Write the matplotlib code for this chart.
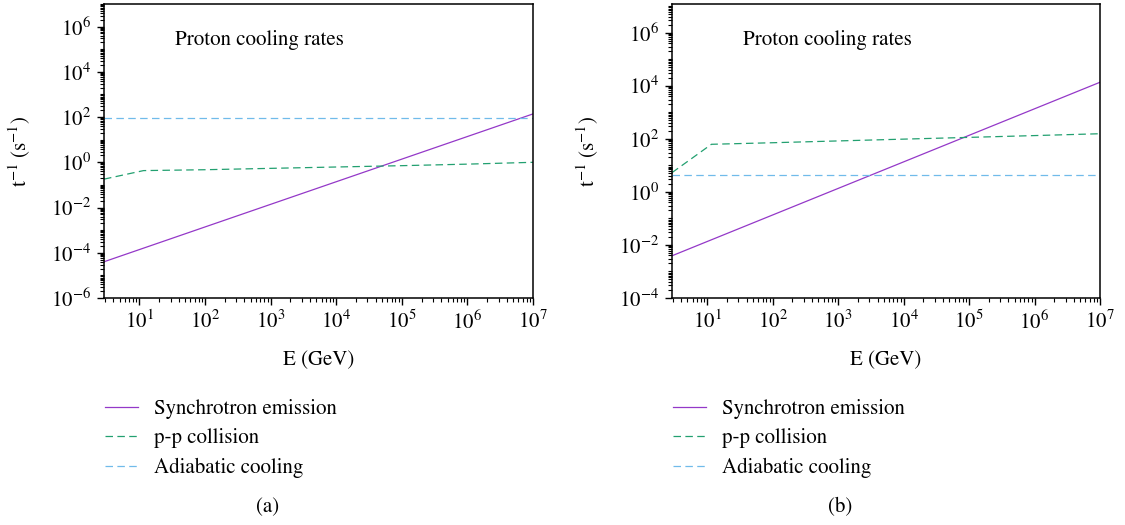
import matplotlib
matplotlib.use('Agg')
import matplotlib.pyplot as plt
import numpy as np
from matplotlib.ticker import LogLocator, NullFormatter, LogFormatterMathtext

plt.rcParams['font.family'] = 'serif'
plt.rcParams['font.serif'] = ['STIXGeneral', 'Liberation Serif', 'DejaVu Serif']
plt.rcParams['mathtext.fontset'] = 'stix'

# energy grid (GeV)
E_SYNC = [2.9, 1e7]
E_PP = [2.9, 11.6, 1e2, 1e3, 1e4, 1e5, 1e6, 1e7]
E_ADI = [2.9, 1e7]

# panel (a)
SYNC_A = [4.0e-5, 1.38e2]
PP_A = [0.18, 0.43, 0.47, 0.54, 0.62, 0.71, 0.83, 1.0]
ADI_A = [89, 89]

# panel (b)
SYNC_B = [3.9e-3, 1.35e4]
PP_B = [5.3, 62, 71, 83, 97, 113, 132, 155]
ADI_B = [4.3, 4.3]

YLIMS = [(1e-6, 1e7), (1e-4, 1.2e7)]
LABELS = ['Synchrotron emission', 'p-p collision', 'Adiabatic cooling']
PANEL_NAMES = ['(a)', '(b)']

C_SYNC = '#9438c8'
C_PP = '#22a070'
C_ADI = '#70bbea'
FS = 15


def draw_panel(ax, sync, pp, adi, ylim):
    ax.plot(E_SYNC, sync, color=C_SYNC, lw=0.9, label=LABELS[0])
    ax.plot(E_PP, pp, color=C_PP, lw=0.9, dashes=(6, 3.5), label=LABELS[1])
    ax.plot(E_ADI, adi, color=C_ADI, lw=0.9, dashes=(6, 3.5), label=LABELS[2])
    ax.set_xscale('log')
    ax.set_yscale('log')
    ax.set_xlim(2.9, 1e7)
    ax.set_ylim(*ylim)

    ax.xaxis.set_major_locator(LogLocator(base=10, numticks=20))
    ax.xaxis.set_minor_locator(LogLocator(base=10, subs=np.arange(2, 10), numticks=20))
    ax.xaxis.set_minor_formatter(NullFormatter())
    ax.yaxis.set_major_locator(LogLocator(base=100, numticks=20))
    ax.yaxis.set_major_formatter(LogFormatterMathtext(base=10))
    ax.yaxis.set_minor_locator(LogLocator(base=10, subs=np.arange(1, 10), numticks=40))
    ax.yaxis.set_minor_formatter(NullFormatter())

    ax.tick_params(which='major', length=5, width=1.0, labelsize=FS, pad=4)
    ax.tick_params(which='minor', length=2.8, width=0.8)
    for s in ax.spines.values():
        s.set_linewidth(1.1)

    ax.set_xlabel('E (GeV)', fontsize=FS, labelpad=12)
    ax.set_ylabel(r'$\mathregular{t^{-1}\ (s^{-1})}$', fontsize=FS, labelpad=13)
    ax.text(0.165, 0.877, 'Proton cooling rates', transform=ax.transAxes,
            fontsize=FS, va='center', ha='left')


fig = plt.figure(figsize=(11.25, 5.25), dpi=100)
ax1 = fig.add_axes([104 / 1125, 1 - 298 / 525, 429 / 1125, 294 / 525])
ax2 = fig.add_axes([672 / 1125, 1 - 298 / 525, 428 / 1125, 294 / 525])

draw_panel(ax1, SYNC_A, PP_A, ADI_A, YLIMS[0])
draw_panel(ax2, SYNC_B, PP_B, ADI_B, YLIMS[1])

for ax, x0, xc, name in [(ax1, 105, 268, PANEL_NAMES[0]), (ax2, 673, 840, PANEL_NAMES[1])]:
    handles, labels = ax.get_legend_handles_labels()
    fig.legend(handles, labels, loc='upper left',
               bbox_to_anchor=(x0 / 1125, 1 - 399 / 525), bbox_transform=fig.transFigure,
               frameon=False, fontsize=FS, borderpad=0, borderaxespad=0,
               handlelength=1.6, handletextpad=0.75, labelspacing=0.45)
    fig.text(xc / 1125, 1 - 507 / 525, name, ha='center', va='center', fontsize=FS)

fig.savefig('out.png', dpi=100)
